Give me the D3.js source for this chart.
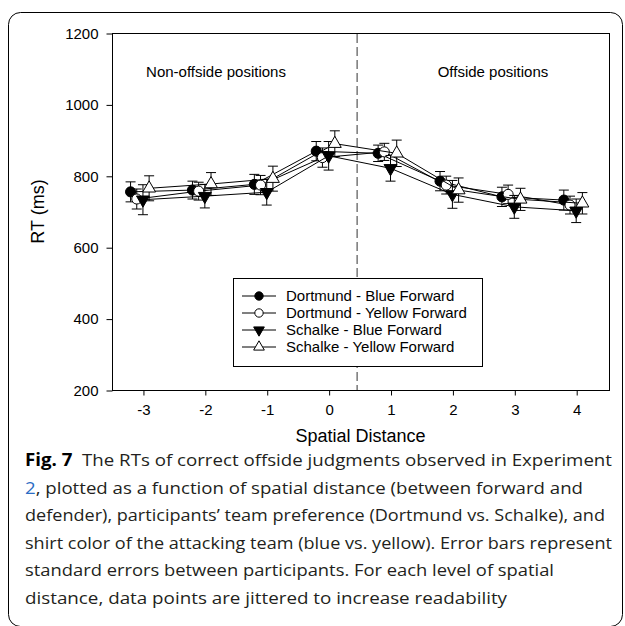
<!DOCTYPE html>
<html>
<head>
<meta charset="utf-8">
<script src="https://cdn.jsdelivr.net/npm/d3@7"></script>
<style>
  body { margin: 0; background: #fff; }
  svg { display: block; }
</style>
</head>
<body>
<div id="chart"></div>
<script>
// ── data ──
const distances = [-3, -2, -1, 0, 1, 2, 3, 4];
const yTicks = [200, 400, 600, 800, 1000, 1200];

const dortmundBlue = [755, 760, 776, 869, 863, 785, 741, 732];
const dortmundBlueSE = [28, 25, 28, 27, 23, 27, 27, 28];
const dortmundYellow = [735, 757, 774, 851, 867, 774, 748, 718];
const dortmundYellowSE = [28, 25, 27, 27, 24, 25, 26, 25];
const schalkeBlue = [733, 743, 754, 856, 821, 748, 713, 702];
const schalkeBlueSE = [42, 33, 36, 40, 36, 39, 32, 33];
const schalkeYellow = [765, 777, 792, 890, 863, 760, 734, 723];
const schalkeYellowSE = [35, 32, 35, 36, 37, 34, 31, 30];

const seriesNames = [
  "Dortmund - Blue Forward",
  "Dortmund - Yellow Forward",
  "Schalke - Blue Forward",
  "Schalke - Yellow Forward",
];
const jitter = [-0.2, -0.1, 0, 0.1];
const boundary = 0.46;

const captionLines = [
  [["Fig. 7", "bold"], ["  The RTs of correct offside judgments observed in Experiment", ""]],
  [["2", "link"], [", plotted as a function of spatial distance (between forward and", ""]],
  [["defender), participants\u2019 team preference (Dortmund vs. Schalke), and", ""]],
  [["shirt color of the attacking team (blue vs. yellow). Error bars represent", ""]],
  [["standard errors between participants. For each level of spatial", ""]],
  [["distance, data points are jittered to increase readability", ""]],
];
const captionWidths = [587, 558, 580, 587, 529, 482];

const series = [
  { name: seriesNames[0], values: dortmundBlue, se: dortmundBlueSE, shape: "circle", fill: "#000" },
  { name: seriesNames[1], values: dortmundYellow, se: dortmundYellowSE, shape: "circle", fill: "#fff" },
  { name: seriesNames[2], values: schalkeBlue, se: schalkeBlueSE, shape: "down", fill: "#000" },
  { name: seriesNames[3], values: schalkeYellow, se: schalkeYellowSE, shape: "up", fill: "#fff" },
];

const W = 625, H = 626;
const plot = { left: 112, right: 609, top: 33, bottom: 390 };
const FONT = "'Liberation Sans', Arial, sans-serif";

const svg = d3.select("#chart").append("svg").attr("width", W).attr("height", H);

// frame around figure + caption
svg.append("rect")
  .attr("x", 8.5).attr("y", 12.5)
  .attr("width", 614).attr("height", 614)
  .attr("rx", 12)
  .attr("fill", "none").attr("stroke", "#000").attr("stroke-width", 1);

const x = d3.scaleLinear().domain([-3.5, 4.53]).range([plot.left, plot.right]);
const y = d3.scaleLinear().domain([200, 1200]).range([plot.bottom, plot.top]);

// plot box
svg.append("rect")
  .attr("x", plot.left + 0.5).attr("y", plot.top + 0.5)
  .attr("width", plot.right - plot.left).attr("height", plot.bottom - plot.top)
  .attr("fill", "none").attr("stroke", "#000");

const yAxis = svg.append("g")
  .attr("transform", `translate(${plot.left + 0.5},0.5)`)
  .call(d3.axisLeft(y).tickValues(yTicks).tickFormat((d) => String(d)).tickSize(6).tickPadding(8));
const xAxis = svg.append("g")
  .attr("transform", `translate(0.5,${plot.bottom + 0.5})`)
  .call(d3.axisBottom(x).tickValues(distances).tickFormat((d) => String(d)).tickSize(5).tickPadding(9));

[yAxis, xAxis].forEach((g) => {
  g.attr("font-family", FONT).attr("font-size", 15);
  g.select(".domain").remove();
  g.selectAll("text").attr("fill", "#000");
  g.selectAll("line").attr("stroke", "#000");
});
xAxis.selectAll("text").attr("dy", "0.71em");

// axis titles
svg.append("text")
  .attr("x", (plot.left + plot.right) / 2).attr("y", 442)
  .attr("text-anchor", "middle")
  .attr("font-family", FONT).attr("font-size", 18)
  .text("Spatial Distance");
svg.append("text")
  .attr("transform", `translate(44,${(plot.top + plot.bottom) / 2}) rotate(-90)`)
  .attr("text-anchor", "middle")
  .attr("font-family", FONT).attr("font-size", 18)
  .text("RT (ms)");

// region labels
svg.append("text")
  .attr("x", 216).attr("y", 77).attr("text-anchor", "middle")
  .attr("font-family", FONT).attr("font-size", 15)
  .text("Non-offside positions");
svg.append("text")
  .attr("x", 493).attr("y", 77).attr("text-anchor", "middle")
  .attr("font-family", FONT).attr("font-size", 15)
  .text("Offside positions");

// boundary dashed line
svg.append("line")
  .attr("x1", x(boundary)).attr("x2", x(boundary))
  .attr("y1", plot.top + 1).attr("y2", plot.bottom)
  .attr("stroke", "#333").attr("stroke-width", 1)
  .attr("stroke-dasharray", "9,4");

// marker drawing
function symbolPath(shape, size) {
  if (shape === "circle") return d3.symbol().type(d3.symbolCircle).size(size)();
  return d3.symbol().type(d3.symbolTriangle).size(size * 0.9)();
}
function addMarker(g, s, cx, cy, size) {
  g.append("path")
    .attr("d", symbolPath(s.shape, size))
    .attr("transform", `translate(${cx},${cy})` + (s.shape === "down" ? " rotate(180)" : ""))
    .attr("fill", s.fill)
    .attr("stroke", "#000")
    .attr("stroke-width", 1);
}

const marks = svg.append("g");
series.forEach((s, si) => {
  const pts = distances.map((d, i) => ({
    x: x(d + jitter[si]),
    y: y(s.values[i]),
    lo: y(s.values[i] - s.se[i]),
    hi: y(s.values[i] + s.se[i]),
  }));
  const g = marks.append("g");
  // error bars
  pts.forEach((p) => {
    g.append("line").attr("x1", p.x).attr("x2", p.x).attr("y1", p.lo).attr("y2", p.hi)
      .attr("stroke", "#000");
    [p.lo, p.hi].forEach((yy) => {
      g.append("line").attr("x1", p.x - 5).attr("x2", p.x + 5).attr("y1", yy).attr("y2", yy)
        .attr("stroke", "#000");
    });
  });
  // connecting line
  g.append("path")
    .datum(pts)
    .attr("d", d3.line().x((p) => p.x).y((p) => p.y))
    .attr("fill", "none").attr("stroke", "#000").attr("stroke-width", 1);
  pts.forEach((p) => addMarker(g, s, p.x, p.y, 80));
});

// legend
const legend = svg.append("g");
legend.append("rect")
  .attr("x", 233.5).attr("y", 278.5).attr("width", 249).attr("height", 88)
  .attr("fill", "#fff").attr("stroke", "#000");
series.forEach((s, i) => {
  const ly = 296 + i * 17;
  legend.append("line").attr("x1", 242).attr("x2", 276).attr("y1", ly).attr("y2", ly)
    .attr("stroke", "#000");
  addMarker(legend, s, 259, ly, 55);
  legend.append("text")
    .attr("x", 286).attr("y", ly).attr("dy", "0.35em")
    .attr("font-family", FONT).attr("font-size", 15)
    .text(s.name);
});

// caption
const cap = svg.append("g");
captionLines.forEach((parts, i) => {
  const t = cap.append("text")
    .attr("x", 25).attr("y", 466 + i * 27.6)
    .attr("font-family", "'Open Sans', 'Noto Sans', sans-serif")
    .attr("font-size", 17)
    .attr("fill", "#231f20")
    .attr("textLength", captionWidths[i])
    .attr("lengthAdjust", "spacingAndGlyphs")
    .attr("xml:space", "preserve");
  parts.forEach(([txt, kind]) => {
    const sp = t.append("tspan").text(txt);
    if (kind === "bold") sp.attr("font-weight", "bold").attr("fill", "#000");
    if (kind === "link") sp.attr("fill", "#2b6cc4");
  });
});
</script>
</body>
</html>
